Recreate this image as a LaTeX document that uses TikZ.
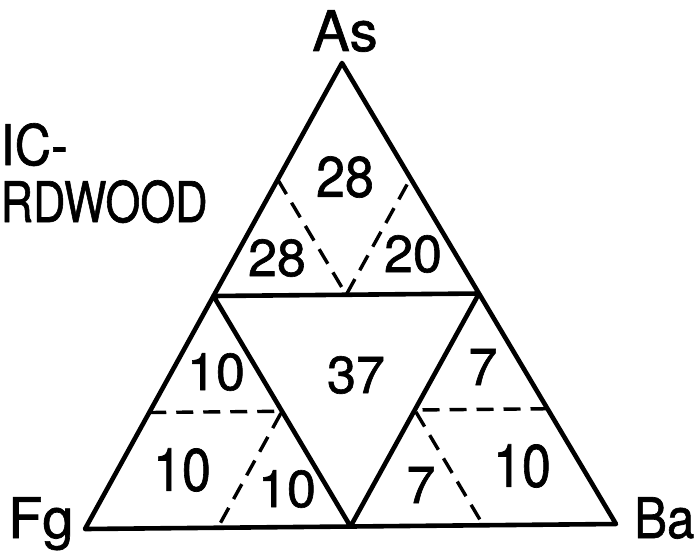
\documentclass[tikz,border=0pt]{standalone}
\usepackage{fontspec}
\setmainfont{TeX Gyre Heros}
\newfontfamily\leroy[FakeBold=1.2]{TeX Gyre Heros}
\usetikzlibrary{calc}
\begin{document}
\begin{tikzpicture}[x=1pt,y=-1pt,
  solidline/.style={line width=4.6pt,line join=round,line cap=round},
  dashline/.style={line width=3.4pt,dash pattern=on 17pt off 10pt},
  lbl/.style={inner sep=0pt,font=\leroy\fontsize{52}{52}\selectfont},
  big/.style={inner sep=0pt,font=\leroy\fontsize{56}{56}\selectfont}]
\useasboundingbox (0,0) rectangle (699,558);
\coordinate (A) at (342,63);
\coordinate (F) at (85,529);
\coordinate (B) at (616,524);
\coordinate (mAF) at ($(A)!0.5!(F)$);
\coordinate (mAB) at ($(A)!0.5!(B)$);
\coordinate (mFB) at ($(F)!0.5!(B)$);
% top sub-triangle points
\coordinate (t1) at ($(A)!0.5!(mAF)$);
\coordinate (t2) at ($(A)!0.5!(mAB)$);
\coordinate (t3) at ($(mAF)!0.5!(mAB)$);
% left sub-triangle points
\coordinate (l1) at ($(mAF)!0.5!(F)$);
\coordinate (l2) at ($(mAF)!0.5!(mFB)$);
\coordinate (l3) at ($(F)!0.5!(mFB)$);
% right sub-triangle points
\coordinate (r1) at ($(mAB)!0.5!(mFB)$);
\coordinate (r2) at ($(mAB)!0.5!(B)$);
\coordinate (r3) at ($(mFB)!0.5!(B)$);
\draw[solidline] (A) -- (F) -- (B) -- cycle;
\draw[solidline] (mAF) -- (mAB) -- (mFB) -- cycle;
\draw[dashline] (t1) -- (t3) -- (t2);
\draw[dashline] (l1) -- (l2) -- (l3);
\draw[dashline] (r2) -- (r1) -- (r3);
% labels
\node[big] (As) at (345,31) {As};
\node[big,anchor=base west] (Fg) at (8,538) {Fg};
\node[big,anchor=base west] (Ba) at (634,538) {\scalebox{0.88}[1]{Ba}};
\node[big,anchor=base west] (ic) at (0.5,165) {\scalebox{0.9}[1]{IC-}};
\node[big,anchor=base west] (rd) at (0.5,222) {\scalebox{0.8}[1]{RDWOOD}};
% numbers
\node[lbl] (n1) at (345,177) {\scalebox{1}[1.1]{28}};
\node[lbl] (n2) at (277,258) {28};
\node[lbl] (n3) at (413,254) {20};
\node[lbl] (n4) at (356,375) {37};
\node[lbl] (n5) at (216,372) {10};
\node[lbl] (n6) at (182,470) {\scalebox{1}[1.15]{10}};
\node[lbl] (n7) at (287,489) {10};
\node[lbl] (n8) at (483,367) {7};
\node[lbl] (n9) at (421,485) {7};
\node[lbl] (n10) at (522,466) {\scalebox{1}[1.15]{10}};
\end{tikzpicture}
\end{document}
